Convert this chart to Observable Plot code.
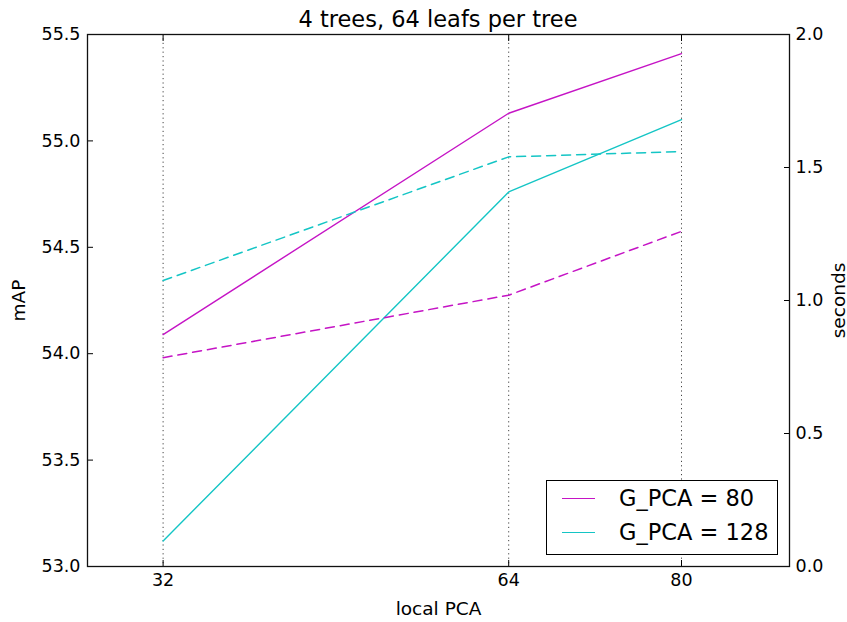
<!DOCTYPE html>
<html>
<head>
<meta charset="utf-8">
<script src="https://cdn.jsdelivr.net/npm/d3@7"></script>
<script src="https://cdn.jsdelivr.net/npm/@observablehq/plot@0.6"></script>
<style>
  html, body { margin: 0; padding: 0; background: #fff; }
  #wrap { position: relative; width: 847px; height: 622px; font-family: "DejaVu Sans", sans-serif; color: #000; }
  #title { height: 24px; font-size: 22.5px; line-height: 1; padding-top: 8px; box-sizing: border-box; text-align: center; padding-left: 29px; white-space: nowrap; overflow: visible; }
  #legend { position: absolute; left: 546px; top: 480px; width: 232px; height: 75px; border: 1.3px solid #000; background: #fff; box-sizing: border-box; }
  .lrow { position: absolute; left: 0; display: flex; align-items: center; font-size: 22.5px; }
  .lline { width: 33px; height: 0; border-top: 1.4px solid; margin-left: 15px; margin-right: 24px; }
</style>
</head>
<body>
<div id="wrap">
  <div id="title">4 trees, 64 leafs per tree</div>
  <div id="chart"></div>
  <div id="legend"></div>
</div>
<script>
// ---- data ----
const localPCA = [32, 64, 80];
const seriesNames = ["G_PCA = 80", "G_PCA = 128"];
const seriesColors = ["#c514c5", "#14c5c5"];
const mapG80 = [54.09, 55.13, 55.41];
const mapG128 = [53.12, 54.76, 55.10];
const secG80 = [0.785, 1.02, 1.26];
const secG128 = [1.075, 1.54, 1.56];
const xTicks = [32, 64, 80];
const mapTicks = [53.0, 53.5, 54.0, 54.5, 55.0, 55.5];
const secTicks = [0.0, 0.5, 1.0, 1.5, 2.0];

// map seconds onto the mAP scale (left 53.0–55.5 ↔ right 0.0–2.0)
const mapDomain = [53.0, 55.5];
const secDomain = [0.0, 2.0];
const secToMap = s => mapDomain[0] + (s - secDomain[0]) * (mapDomain[1] - mapDomain[0]) / (secDomain[1] - secDomain[0]);

const mapRows = [];
const secRows = [];
[mapG80, mapG128].forEach((arr, i) => arr.forEach((v, j) => mapRows.push({x: localPCA[j], v, s: seriesNames[i]})));
[secG80, secG128].forEach((arr, i) => arr.forEach((v, j) => secRows.push({x: localPCA[j], v, s: seriesNames[i]})));

const fontTick = "17.5px";
const fontLabel = "18.5px";
const chart = Plot.plot({
  width: 847,
  height: 598,
  marginTop: 10,
  marginBottom: 56,
  marginLeft: 87,
  marginRight: 58,
  style: {fontFamily: "DejaVu Sans, sans-serif", fontSize: fontTick, color: "#000", background: "#fff", overflow: "visible"},
  x: {domain: [25, 90]},
  y: {domain: mapDomain},
  color: {domain: seriesNames, range: seriesColors},
  marks: [
    Plot.gridX(xTicks, {stroke: "#444", strokeOpacity: 1, strokeDasharray: "1.2,3.2", strokeWidth: 1}),
    Plot.line(mapRows, {x: "x", y: "v", z: "s", stroke: "s", strokeWidth: 1.4}),
    Plot.line(secRows, {x: "x", y: d => secToMap(d.v), z: "s", stroke: "s", strokeWidth: 1.5, strokeDasharray: "9,6"}),
    Plot.axisX(xTicks, {anchor: "bottom", tickSize: -6, tickPadding: 13, fontSize: fontTick, tickFormat: d => String(d), label: null}),
    Plot.axisX([], {anchor: "bottom", fontSize: fontLabel, label: "local PCA", labelAnchor: "center", labelArrow: "none", labelOffset: 48}),
    Plot.axisX(xTicks, {anchor: "top", tickSize: -6, tickFormat: () => "", label: null}),
    Plot.axisY(mapTicks, {anchor: "left", tickSize: -6, tickPadding: 13, fontSize: fontTick, tickFormat: d => d.toFixed(1), label: null}),
    Plot.axisY([], {anchor: "left", fontSize: fontLabel, label: "mAP", labelAnchor: "center", labelArrow: "none", labelOffset: 76}),
    Plot.axisY(secTicks.map(secToMap), {anchor: "right", tickSize: -6, tickPadding: 12, fontSize: fontTick, tickFormat: (d, i) => secTicks[i].toFixed(1), label: null}),
    Plot.axisY([], {anchor: "right", fontSize: fontLabel, label: "seconds", labelAnchor: "center", labelArrow: "none", labelOffset: 55}),
    Plot.frame({stroke: "#111", strokeWidth: 1.3})
  ]
});
document.getElementById("chart").appendChild(chart);

// legend
const leg = document.getElementById("legend");
seriesNames.forEach((name, i) => {
  const row = document.createElement("div");
  row.className = "lrow";
  row.style.top = (i === 0 ? 4 : 38) + "px";
  const ln = document.createElement("div");
  ln.className = "lline";
  ln.style.borderColor = seriesColors[i];
  const tx = document.createElement("span");
  tx.textContent = name;
  row.appendChild(ln);
  row.appendChild(tx);
  leg.appendChild(row);
});
</script>
</body>
</html>
